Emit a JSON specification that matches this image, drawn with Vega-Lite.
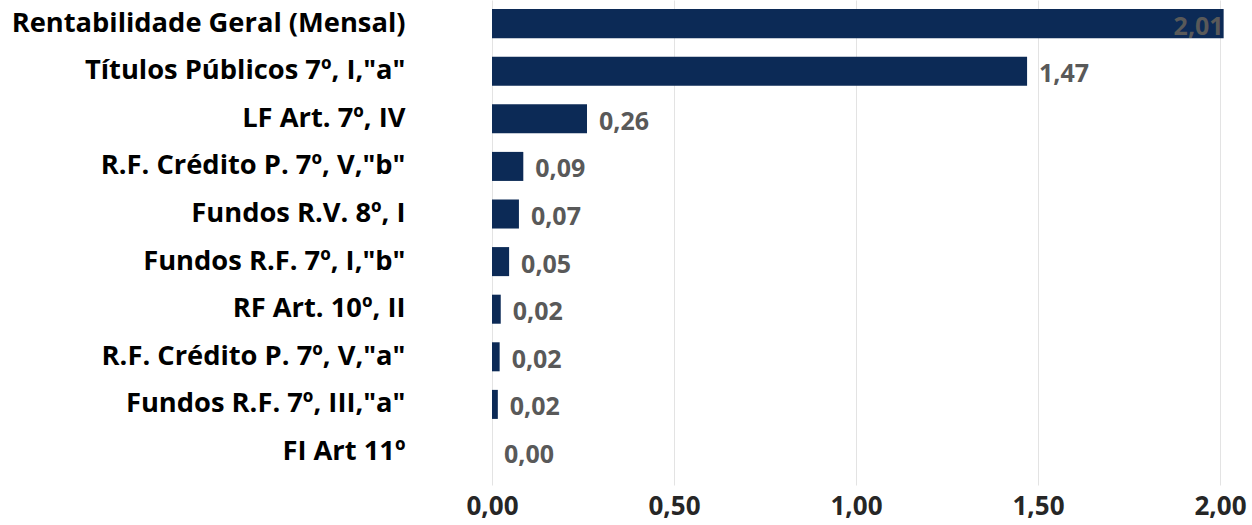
{
  "$schema": "https://vega.github.io/schema/vega-lite/v6.json",
  "width": 728,
  "height": 485,
  "autosize": {"type": "none"},
  "padding": {"left": 492, "top": 0, "right": 32, "bottom": 40},
  "background": "#ffffff",
  "config": {
    "view": {"stroke": null},
    "font": "Open Sans",
    "locale": {
      "number": {"decimal": ",", "thousands": ".", "grouping": [3], "currency": ["R$ ", ""]}
    }
  },
  "data": {
    "values": [
      {"categoria": "Rentabilidade Geral (Mensal)", "valor": 2.01},
      {"categoria": "Títulos Públicos 7º, I,\"a\"", "valor": 1.47},
      {"categoria": "LF Art. 7º, IV", "valor": 0.261},
      {"categoria": "R.F. Crédito P. 7º, V,\"b\"", "valor": 0.086},
      {"categoria": "Fundos R.V. 8º, I", "valor": 0.074},
      {"categoria": "Fundos R.F. 7º, I,\"b\"", "valor": 0.047},
      {"categoria": "RF Art. 10º, II", "valor": 0.024},
      {"categoria": "R.F. Crédito P. 7º, V,\"a\"", "valor": 0.021},
      {"categoria": "Fundos R.F. 7º, III,\"a\"", "valor": 0.016},
      {"categoria": "FI Art 11º", "valor": 0.0}
    ]
  },
  "encoding": {
    "y": {
      "field": "categoria",
      "type": "nominal",
      "sort": null,
      "scale": {"paddingInner": 0.39, "paddingOuter": 0.29, "align": 0.33},
      "axis": {
        "title": null,
        "domain": false,
        "ticks": false,
        "labelPadding": 87,
        "labelLimit": 600,
        "labelFont": "Open Sans",
        "labelFontWeight": "bold",
        "labelFontSize": 27.3,
        "labelColor": "#000000"
      }
    },
    "x": {
      "field": "valor",
      "type": "quantitative",
      "scale": {"domain": [0, 2], "nice": false},
      "axis": {
        "title": null,
        "domain": false,
        "ticks": false,
        "values": [0, 0.5, 1, 1.5, 2],
        "format": ".2f",
        "labelFlush": false,
        "grid": true,
        "gridColor": "#e3e3e3",
        "gridWidth": 1,
        "labelPadding": 8,
        "labelFont": "Open Sans",
        "labelFontWeight": "bold",
        "labelFontSize": 26,
        "labelColor": "#262626"
      }
    }
  },
  "layer": [
    {"mark": {"type": "bar", "color": "#0c2a56"}},
    {
      "transform": [{"filter": "datum.valor < 1.9"}],
      "mark": {"type": "text", "align": "left", "baseline": "middle", "dx": 12, "dy": 3, "font": "Open Sans", "fontWeight": "bold", "fontSize": 25, "color": "#595959"},
      "encoding": {"text": {"field": "valor", "type": "quantitative", "format": ".2f"}}
    },
    {
      "transform": [{"filter": "datum.valor >= 1.9"}],
      "mark": {"type": "text", "align": "right", "baseline": "middle", "dx": 0, "dy": 3, "font": "Open Sans", "fontWeight": "bold", "fontSize": 25, "color": "#595959"},
      "encoding": {"text": {"field": "valor", "type": "quantitative", "format": ".2f"}}
    }
  ]
}
